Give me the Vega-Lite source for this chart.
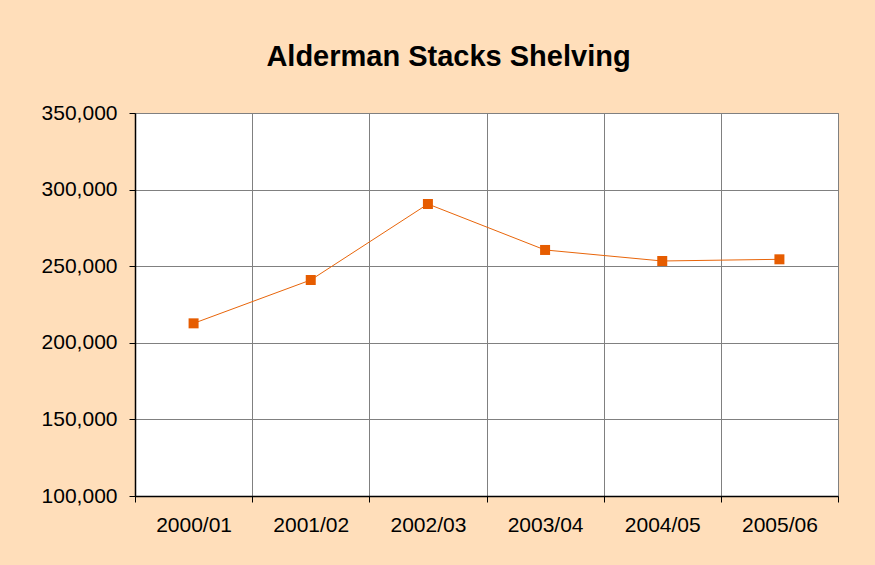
{
  "$schema": "https://vega.github.io/schema/vega-lite/v6.json",
  "autosize": {"type": "none"},
  "padding": {"left": 135, "top": 113, "right": 37, "bottom": 69},
  "width": 703,
  "height": 383,
  "background": "#FFDEBA",
  "title": {
    "text": "Alderman Stacks Shelving",
    "font": "Liberation Sans",
    "fontSize": 29,
    "fontWeight": "bold",
    "color": "#000000",
    "anchor": "middle",
    "dx": -38,
    "offset": 30
  },
  "config": {
    "view": {"fill": "#FFFFFF", "stroke": "#808080", "strokeWidth": 1},
    "axis": {
      "labelFont": "Liberation Sans",
      "labelFontSize": 21,
      "labelColor": "#000000",
      "domainColor": "#000000",
      "domainWidth": 1.5,
      "tickColor": "#000000",
      "tickSize": 6,
      "gridColor": "#808080",
      "gridWidth": 1,
      "gridOpacity": 1,
      "title": null
    }
  },
  "data": {
    "values": [
      {"year": "2000/01", "value": 212700},
      {"year": "2001/02", "value": 241000},
      {"year": "2002/03", "value": 290600},
      {"year": "2003/04", "value": 260600},
      {"year": "2004/05", "value": 253400},
      {"year": "2005/06", "value": 254500}
    ]
  },
  "encoding": {
    "x": {
      "field": "year",
      "type": "nominal",
      "sort": null,
      "scale": {"type": "band", "paddingInner": 0, "paddingOuter": 0},
      "axis": {"labelAngle": 0, "tickBand": "extent", "grid": true, "labelPadding": 12}
    },
    "y": {
      "field": "value",
      "type": "quantitative",
      "scale": {"domain": [100000, 350000], "nice": false, "zero": false},
      "axis": {"values": [100000, 150000, 200000, 250000, 300000, 350000], "format": ",d", "grid": true, "labelPadding": 12}
    }
  },
  "layer": [
    {"mark": {"type": "line", "color": "#E8650A", "strokeWidth": 1}},
    {"mark": {"type": "point", "shape": "square", "filled": true, "size": 100, "color": "#E65C00", "opacity": 1}}
  ]
}
